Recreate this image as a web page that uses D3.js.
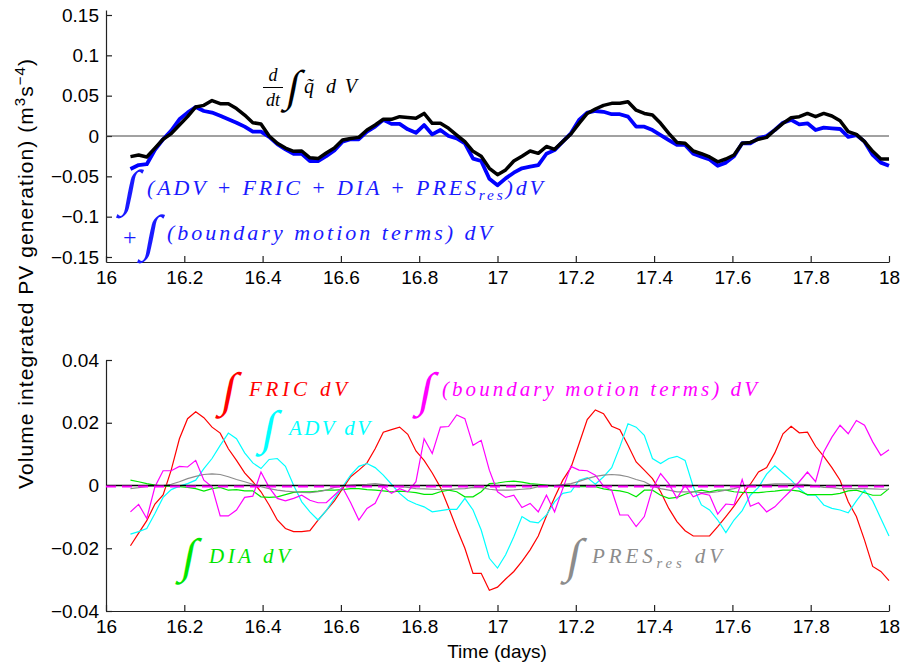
<!DOCTYPE html>
<html>
<head>
<meta charset="utf-8">
<script src="https://cdn.jsdelivr.net/npm/d3@7.9.0/dist/d3.min.js"></script>
<style>
  body { margin: 0; background: #fff; }
  svg { display: block; }
  .tick text { font-family: "Liberation Sans", Arial, sans-serif; font-size: 19px; fill: #000; }
  .math { font-family: "Liberation Serif", "Times New Roman", serif; font-style: italic; }
  .intg { font-family: "Liberation Serif", serif; }
</style>
</head>
<body>
<div id="chart"></div>
<script>
// time grid: half-hourly output, day 16 + 3/48 to day 18
const times = d3.range(3, 97).map(k => 16 + k / 48);

const xTicks = [16, 16.2, 16.4, 16.6, 16.8, 17, 17.2, 17.4, 17.6, 17.8, 18];
const topTicks = [-0.15, -0.1, -0.05, 0, 0.05, 0.1, 0.15];
const botTicks = [-0.04, -0.02, 0, 0.02, 0.04];

// top panel
const dqdt = [-0.0256,-0.0236,-0.026,-0.015,-0.004,0.003,0.0136,0.024,0.036,0.038,0.044,0.040,0.040,0.034,0.026,0.0165,0.015,0.0,-0.009,-0.015,-0.019,-0.0186,-0.027,-0.028,-0.021,-0.015,-0.005,-0.003,-0.0017,0.0074,0.0136,0.0207,0.0207,0.024,0.023,0.022,0.028,0.0157,0.0157,0.0095,0.0012,-0.007,-0.019,-0.025,-0.040,-0.048,
  -0.042,-0.031,-0.025,-0.0186,-0.0215,-0.013,-0.0165,-0.007,0.0025,0.0157,0.028,0.0335,0.038,0.0405,0.0405,0.0425,0.032,0.028,0.026,0.0157,0.0033,-0.008,-0.009,-0.0186,-0.022,-0.026,-0.032,-0.0285,-0.0235,-0.009,-0.008,-0.004,-0.0017,0.0074,0.0157,0.0227,0.024,0.028,0.024,0.028,0.0248,0.019,0.0054,0.002,-0.007,-0.019,-0.0285,-0.0285];
const sumTerms = [-0.041,-0.036,-0.035,-0.017,-0.004,0.0066,0.0207,0.029,0.036,0.031,0.029,0.025,0.0207,0.0165,0.0116,0.0054,0.0054,-0.001,-0.01,-0.0165,-0.022,-0.022,-0.031,-0.031,-0.025,-0.018,-0.007,-0.004,-0.004,0.0054,0.0116,0.02,0.015,0.015,0.0083,0.004,0.0136,0.002,0.0074,0.0,-0.003,-0.009,-0.028,-0.031,-0.053,-0.061,
  -0.0525,-0.0455,-0.040,-0.038,-0.036,-0.022,-0.0175,-0.007,0.0033,0.0198,0.029,0.031,0.030,0.027,0.027,0.024,0.0116,0.0116,0.0074,0.0012,-0.005,-0.011,-0.011,-0.022,-0.0256,-0.029,-0.037,-0.033,-0.025,-0.009,-0.009,-0.003,0.0,0.0074,0.0165,0.02,0.0145,0.0157,0.0074,0.0103,0.0095,0.0087,-0.001,0.0012,-0.007,-0.0235,-0.033,-0.037];

// bottom panel
const fric = [-0.0192,-0.0152,-0.0112,-0.0059,-0.003,0.005,0.0149,0.0213,0.0235,0.0216,0.0186,0.0167,0.0117,0.008,0.004,0.0012,-0.002,-0.0062,-0.011,-0.0137,-0.0147,-0.0147,-0.0144,-0.011,-0.008,-0.0049,-0.001,0.0028,0.0049,0.0072,0.0117,0.017,0.0178,0.0186,0.0163,0.011,0.008,0.004,-0.0006,-0.007,-0.0137,-0.02,-0.028,-0.028,-0.0334,-0.0324,
  -0.0298,-0.0274,-0.0242,-0.0205,-0.0161,-0.0097,-0.0038,0.0017,0.0057,0.0133,0.021,0.0241,0.0229,0.0189,0.0178,0.0128,0.0075,0.0049,0.0022,-0.002,-0.0073,-0.0115,-0.0144,-0.0161,-0.0161,-0.0161,-0.0131,-0.0099,-0.0066,-0.0028,0.0004,0.0043,0.0057,0.0104,0.0165,0.0189,0.0168,0.017,0.0125,0.0093,0.0057,0.0017,-0.0052,-0.0099,-0.0174,-0.0258,-0.0274,-0.0303];
const adv = [-0.0155,-0.0147,-0.0137,-0.0089,-0.0038,-0.0013,-0.0002,0.0006,0.0017,0.0054,0.0086,0.0128,0.0167,0.0149,0.0104,0.0072,0.0054,0.0083,0.0086,0.0061,0.0001,-0.0052,-0.0084,-0.011,-0.008,-0.0041,-0.0004,0.0033,0.0061,0.007,0.0057,0.0033,0.0004,-0.0025,-0.0047,-0.0059,-0.0068,-0.0084,-0.008,-0.0076,-0.0076,-0.0041,-0.0078,-0.0142,-0.0232,-0.0263,
  -0.0221,-0.0163,-0.0099,-0.0115,-0.0119,-0.0094,-0.0052,-0.0025,-0.002,0.0017,0.0025,0.0004,0.0028,0.0057,0.0123,0.0197,0.0186,0.016,0.0086,0.007,0.0086,0.0093,0.008,-0.0004,-0.0062,-0.0078,-0.011,-0.015,-0.011,-0.008,-0.0031,-0.0006,0.0036,0.0063,0.004,0.0017,-0.001,-0.0031,-0.0031,-0.0062,-0.0073,-0.0078,-0.0087,-0.0049,-0.0015,-0.0049,-0.0105,-0.0161];
const boundary = [-0.0084,-0.006,-0.0105,-0.0004,0.0047,0.0047,0.0061,0.0059,0.008,0.0017,-0.0004,-0.0097,-0.0097,-0.0078,-0.0038,-0.0034,0.0043,-0.0006,-0.0041,-0.0049,-0.0041,-0.0031,-0.0047,-0.0055,-0.0055,-0.0031,-0.0006,-0.0055,-0.011,-0.0073,-0.0057,-0.0004,-0.0025,-0.001,-0.002,0.0012,0.0149,0.0102,0.0186,0.0188,0.0225,0.0213,0.0128,0.0144,0.0049,-0.002,
  -0.0038,-0.0031,-0.007,-0.0057,-0.0084,-0.0031,-0.0084,-0.001,0.0061,0.0049,0.0047,0.0033,-0.0002,-0.0015,-0.0094,-0.0094,-0.0131,-0.0099,-0.001,0.0038,0.0006,-0.0041,0.0001,-0.0036,-0.0025,-0.0031,-0.0091,-0.0059,-0.0062,0.0019,-0.0066,-0.0055,-0.0084,-0.0068,-0.0041,-0.0015,0.0012,0.0043,0.0012,0.0107,0.0154,0.0192,0.0165,0.0207,0.0192,0.0139,0.0096,0.0114];
const dia = [0.0017,0.0012,0.0006,0.0001,-0.0002,-0.0002,-0.0004,-0.0006,-0.001,-0.0018,-0.001,-0.0006,-0.0015,-0.0013,-0.0017,-0.0017,-0.0036,-0.0038,-0.0036,-0.0029,-0.0022,-0.002,-0.002,-0.0018,-0.0015,-0.0015,-0.0013,-0.001,-0.001,-0.0013,-0.0015,-0.0017,-0.002,-0.0018,-0.002,-0.0023,-0.0028,-0.0028,-0.002,-0.0015,-0.002,-0.0036,-0.0036,-0.002,0.0006,0.0008,
  0.0012,0.0014,0.0011,0.0006,0.0004,0.0001,-0.0002,-0.0002,-0.0002,-0.0004,-0.0004,-0.0004,-0.0011,-0.0015,-0.0017,-0.0023,-0.0036,-0.0015,-0.0015,-0.0031,-0.0041,-0.0038,-0.0028,-0.002,-0.0015,-0.002,-0.0015,-0.0015,-0.002,-0.0022,-0.0023,-0.0023,-0.002,-0.0018,-0.0015,-0.0015,-0.0018,-0.0029,-0.0029,-0.0029,-0.0029,-0.0025,-0.0017,-0.0015,-0.0023,-0.0031,-0.0031,-0.001];
const presRes = [-0.001,-0.0007,-0.0003,-0.0002,0.0,0.0004,0.0012,0.0022,0.0029,0.0035,0.0037,0.0035,0.0028,0.0019,0.0012,0.0004,-0.0004,-0.001,-0.0015,-0.0018,-0.002,-0.0022,-0.0023,-0.002,-0.0015,-0.0006,-0.0002,0.0001,0.0003,0.0004,0.0006,0.0003,-0.0002,-0.0004,-0.0006,-0.001,-0.0011,-0.0012,-0.0013,-0.0013,-0.0011,-0.001,-0.0006,-0.0007,-0.0012,-0.0015,
  -0.0015,-0.0014,-0.0012,-0.001,-0.0004,-0.0002,0.0,0.0003,0.0006,0.0013,0.0022,0.0029,0.0033,0.0035,0.0033,0.0028,0.0019,0.0012,-0.0002,-0.001,-0.0015,-0.002,-0.002,-0.002,-0.0023,-0.0023,-0.002,-0.0015,-0.001,-0.0002,0.0001,0.0001,0.0003,0.0005,0.0005,0.0005,0.0004,0.0003,-0.0002,-0.0006,-0.0007,-0.001,-0.001,-0.001,-0.001,-0.0011,-0.0012,-0.0012];
// dashed magenta reference level
const dashedLevel = [-0.0003, -0.0003];
const dashedTimes = [16, 18];

const W = 900, H = 665;
const svg = d3.select('#chart').append('svg').attr('width', W).attr('height', H);

const x = d3.scaleLinear().domain([16, 18]).range([106, 889]);
const yTop = d3.scaleLinear().domain([-0.1562, 0.1562]).range([262, 10]);
const yBot = d3.scaleLinear().domain([-0.04, 0.04]).range([611, 360]);

const fmt = v => (v === 0 ? '0' : String(+v.toFixed(2))).replace('-', '\u2212');
const fmtX = v => String(+v.toFixed(1));

function drawAxes(y, ticks, yBottom) {
  const gx = svg.append('g').attr('transform', `translate(0,${yBottom})`)
    .call(d3.axisBottom(x).tickValues(xTicks).tickFormat(fmtX).tickSize(-6).tickSizeOuter(0).tickPadding(9));
  const gy = svg.append('g').attr('transform', 'translate(106,0)')
    .call(d3.axisLeft(y).tickValues(ticks).tickFormat(fmt).tickSize(-6).tickSizeOuter(0).tickPadding(7));
  [gx, gy].forEach(g => {
    g.selectAll('path.domain').attr('stroke', '#222').attr('stroke-width', 1.2);
    g.selectAll('.tick line').attr('stroke', '#222').attr('stroke-width', 1.2);
  });
}

function series(y, vals) {
  return d3.line().x((d, i) => x(times[i])).y(d => y(d))(vals);
}

// ---------- top panel ----------
drawAxes(yTop, topTicks, 262);
svg.append('line').attr('x1', x(16)).attr('x2', x(18)).attr('y1', yTop(0)).attr('y2', yTop(0))
  .attr('stroke', '#444').attr('stroke-width', 1);
svg.append('path').attr('d', series(yTop, sumTerms)).attr('fill', 'none')
  .attr('stroke', '#0000ff').attr('stroke-width', 3.8).attr('stroke-linejoin', 'round');
svg.append('path').attr('d', series(yTop, dqdt)).attr('fill', 'none')
  .attr('stroke', '#000').attr('stroke-width', 3.5).attr('stroke-linejoin', 'round');

// ---------- bottom panel ----------
drawAxes(yBot, botTicks, 611);
const botSeries = [
  [fric, '#ff0000'],
  [adv, '#00ffff'],
  [dia, '#00e600'],
  [presRes, '#8c8c8c'],
  [boundary, '#ff00ff']
];
botSeries.forEach(([vals, c]) => {
  svg.append('path').attr('d', series(yBot, vals)).attr('fill', 'none')
    .attr('stroke', c).attr('stroke-width', 1.2);
});
svg.append('line').attr('x1', x(16)).attr('x2', x(18)).attr('y1', yBot(0)).attr('y2', yBot(0))
  .attr('stroke', '#000').attr('stroke-width', 1.5);
svg.append('path')
  .attr('d', d3.line().x((d, i) => x(dashedTimes[i])).y(d => yBot(d))(dashedLevel))
  .attr('fill', 'none').attr('stroke', '#ff00ff').attr('stroke-width', 2).attr('stroke-dasharray', '10,6');

// ---------- labels ----------
const yl = svg.append('text')
  .attr('transform', 'translate(33,274) rotate(-90)')
  .attr('text-anchor', 'middle')
  .attr('textLength', 430).attr('lengthAdjust', 'spacing')
  .style('font-family', '"Liberation Sans", Arial, sans-serif').style('font-size', '21px');
yl.append('tspan').text('Volume integrated PV generation) (m');
yl.append('tspan').attr('dy', -8).style('font-size', '15px').text('3');
yl.append('tspan').attr('dy', 8).text('s');
yl.append('tspan').attr('dy', -8).style('font-size', '15px').text('\u22124');
yl.append('tspan').attr('dy', 8).text(')');

svg.append('text').attr('x', 497).attr('y', 658).attr('text-anchor', 'middle')
  .style('font-family', '"Liberation Sans", Arial, sans-serif').style('font-size', '19px')
  .text('Time (days)');

// integral sign helper (slanted like a TeX integral)
function integral(xp, yBase, color, size) {
  svg.append('text').attr('class', 'intg')
    .attr('transform', `translate(${xp},${yBase}) skewX(-11)`)
    .attr('fill', color).style('font-size', size + 'px').text('\u222B');
}
// math text helper: parts = [[text, isSub]]
function mathText(x0, x1, yb, color, size, parts) {
  const t = svg.append('text').attr('class', 'math').attr('x', x0).attr('y', yb)
    .attr('fill', color).style('font-size', size + 'px')
    .attr('textLength', x1 - x0).attr('lengthAdjust', 'spacing');
  let sub = false;
  parts.forEach(([s, isSub]) => {
    const ts = t.append('tspan').text(s);
    if (isSub && !sub) ts.attr('dy', 5).style('font-size', (size * 0.7) + 'px');
    else if (!isSub && sub) ts.attr('dy', -5);
    sub = isSub;
  });
  return t;
}

// top: d/dt ∫ q~ dV
svg.append('text').attr('class', 'math').attr('x', 273).attr('y', 81).attr('text-anchor', 'middle')
  .style('font-size', '18px').text('d');
svg.append('line').attr('x1', 263).attr('x2', 283).attr('y1', 87.5).attr('y2', 87.5).attr('stroke', '#000').attr('stroke-width', 1);
svg.append('text').attr('class', 'math').attr('x', 273).attr('y', 106).attr('text-anchor', 'middle')
  .style('font-size', '18px').text('dt');
integral(285, 101, '#000', 44);
svg.append('text').attr('class', 'math').attr('x', 304).attr('y', 93).style('font-size', '20px').text('q\u0303');
mathText(326, 357, 93, '#000', 20, [['dV', false]]);

// top blue
integral(121, 205, '#1a1aff', 50);
mathText(147, 543, 195, '#1a1aff', 22, [['(ADV + FRIC + DIA + PRES', false], ['res', true], [')dV', false]]);
svg.append('text').attr('x', 123).attr('y', 245).attr('fill', '#1a1aff')
  .style('font-family', '"Liberation Serif", serif').style('font-size', '24px').text('+');
integral(142, 250, '#1a1aff', 50);
mathText(167, 492, 240, '#1a1aff', 22, [['(boundary  motion  terms)  dV', false]]);

// bottom annotations
integral(220, 406, '#ff0000', 48);
mathText(249, 347, 396, '#ff0000', 21, [['FRIC dV', false]]);
integral(260, 444, '#00ffff', 48);
mathText(289, 370, 435, '#00ffff', 21, [['ADV dV', false]]);
integral(417, 406, '#ff00ff', 48);
mathText(442, 757, 396, '#ff00ff', 21, [['(boundary  motion  terms) dV', false]]);
integral(180, 572, '#00e600', 48);
mathText(209, 290, 563, '#00e600', 21, [['DIA dV', false]]);
integral(565, 572, '#8c8c8c', 48);
mathText(592, 722, 563, '#8c8c8c', 21, [['PRES', false], ['res', true], [' dV', false]]);
</script>
</body>
</html>
